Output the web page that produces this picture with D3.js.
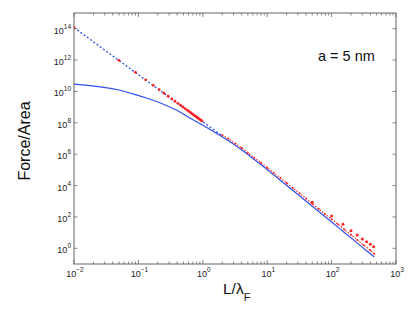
<!DOCTYPE html>
<html>
<head>
<meta charset="utf-8">
<script src="https://cdn.jsdelivr.net/npm/d3@7"></script>
<style>
body { margin: 0; background: #fff; }
svg { display: block; font-family: 'Liberation Sans', Arial, sans-serif; }
</style>
</head>
<body>
<script>
// exact force curve (blue, solid)
const blueX = [0.01, 0.05, 0.09, 0.13, 0.17, 0.25, 0.4, 0.63, 1, 1.58, 2.51, 3.98, 6.31, 10, 15.8, 25.1, 39.8, 63.1, 100, 158, 251, 460];
const blueY = [2.95e10, 1.23e10, 6.31e9, 3.98e9, 2.75e9, 1.48e9, 6.03e8, 2.0e8, 6.92e7, 2.29e7, 7.08e6, 1.91e6, 4.57e5, 1.05e5, 2.29e4, 4.9e3, 1.05e3, 224, 47.9, 10.2, 2.14, 0.28];

// small-L asymptote (blue, dashed)
const asymX = [0.01, 2];
const asymY = [1.17e14, 1.46e7];

// red points, small L
const redSmallX = [0.01, 0.05, 0.09, 0.13, 0.17, 0.21, 0.25, 0.29, 0.33, 0.37, 0.41, 0.45, 0.49, 0.53, 0.57, 0.61, 0.65, 0.69, 0.73, 0.77, 0.81, 0.85, 0.89, 0.93, 0.97];
const redSmallY = [1.2e14, 9.6e11, 1.646e11, 5.46e10, 2.44e10, 1.296e10, 7.68e9, 4.92e9, 3.34e9, 2.37e9, 1.741e9, 1.317e9, 1.02e9, 8.06e8, 6.48e8, 5.29e8, 4.37e8, 3.65e8, 3.08e8, 2.63e8, 2.26e8, 1.95e8, 1.7e8, 1.49e8, 1.31e8];

// red dotted curve, large L
const redLineX = [2, 2.5, 3.2, 4, 5, 6.3, 8, 10, 12.6, 16, 20, 25, 32, 40, 50, 63, 79, 100, 126, 158, 200, 251, 316, 398, 460];
const redLineY = [1.66e7, 9.55e6, 4.79e6, 2.51e6, 1.23e6, 6.03e5, 2.88e5, 1.38e5, 6.61e4, 3.09e4, 1.48e4, 6.92e3, 3.09e3, 1.48e3, 692, 324, 151, 72.4, 33.9, 15.8, 7.24, 3.39, 1.58, 0.74, 0.45];

// sparse red points, large L
const redBigX = [50, 100, 150, 200, 250, 300, 350, 400, 450];
const redBigY = [850, 115, 34, 13.2, 7.1, 3.9, 2.6, 1.8, 1.26];

const xTickExp = [-2, -1, 0, 1, 2, 3];
const yTickExp = [0, 2, 4, 6, 8, 10, 12, 14];

const W = 415, H = 309;
const m = {top: 13, right: 19, bottom: 45, left: 74};

const svg = d3.select('body').append('svg')
  .attr('width', W).attr('height', H);

const x = d3.scaleLog().domain([1e-2, 1e3]).range([m.left, W - m.right]);
const y = d3.scaleLog().domain([1e-1, 1e15]).range([H - m.bottom, m.top]);

const blue = '#2f4fee';
const red = '#f22';
const axisCol = '#666';

// frame
svg.append('rect')
  .attr('x', m.left).attr('y', m.top)
  .attr('width', W - m.left - m.right).attr('height', H - m.top - m.bottom)
  .attr('fill', 'none').attr('stroke', axisCol).attr('stroke-width', 1);

// x ticks (major + minor), bottom and top, pointing inward
const xTicks = [];
for (let e = -2; e < 3; e++) {
  for (let k = 1; k < 10; k++) xTicks.push({v: k * Math.pow(10, e), major: k === 1});
}
xTicks.push({v: 1e3, major: true});
xTicks.forEach(t => {
  const px = x(t.v);
  const len = t.major ? 4 : 2.5;
  svg.append('line').attr('x1', px).attr('x2', px)
    .attr('y1', H - m.bottom).attr('y2', H - m.bottom - len)
    .attr('stroke', axisCol).attr('stroke-width', 0.8);
  svg.append('line').attr('x1', px).attr('x2', px)
    .attr('y1', m.top).attr('y2', m.top + len)
    .attr('stroke', axisCol).attr('stroke-width', 0.8);
});

// y ticks, left and right
yTickExp.forEach(e => {
  const py = y(Math.pow(10, e));
  svg.append('line').attr('x1', m.left).attr('x2', m.left + 3.5)
    .attr('y1', py).attr('y2', py).attr('stroke', axisCol).attr('stroke-width', 0.8);
  svg.append('line').attr('x1', W - m.right).attr('x2', W - m.right - 3.5)
    .attr('y1', py).attr('y2', py).attr('stroke', axisCol).attr('stroke-width', 0.8);
});

// tick labels
xTickExp.forEach(e => {
  const t = svg.append('text')
    .attr('x', x(Math.pow(10, e)) + 1).attr('y', 277)
    .attr('text-anchor', 'middle')
    .attr('font-size', 9).attr('fill', '#222');
  t.append('tspan').text('10');
  t.append('tspan').attr('dy', -5).attr('font-size', 6.5).text(e < 0 ? '\u2212' + (-e) : e);
});
yTickExp.forEach(e => {
  const t = svg.append('text')
    .attr('x', 71).attr('y', y(Math.pow(10, e)) + 5)
    .attr('text-anchor', 'end')
    .attr('font-size', 9).attr('fill', '#222');
  t.append('tspan').text('10');
  t.append('tspan').attr('dy', -5).attr('font-size', 6.5).text(e);
});

// axis titles
svg.append('text')
  .attr('transform', 'translate(30,141) rotate(-90)')
  .attr('text-anchor', 'middle')
  .attr('font-size', 16).attr('fill', '#111')
  .text('Force/Area');

const xl = svg.append('text')
  .attr('x', 223).attr('y', 294)
  .attr('font-size', 15.5).attr('fill', '#111');
xl.append('tspan').text('L/\u03bb');
xl.append('tspan').attr('dy', 7).attr('font-size', 11).text('F');

svg.append('text')
  .attr('x', 318).attr('y', 61)
  .attr('font-size', 14.5).attr('fill', '#111')
  .text('a = 5 nm');

// curves
svg.append('clipPath').attr('id', 'clip')
  .append('rect').attr('x', m.left).attr('y', m.top)
  .attr('width', W - m.left - m.right).attr('height', H - m.top - m.bottom);

const plot = svg.append('g').attr('clip-path', 'url(#clip)');

const line = d3.line().x(d => x(d[0])).y(d => y(d[1])).curve(d3.curveMonotoneX);

plot.append('path')
  .datum(d3.zip(asymX, asymY))
  .attr('d', line)
  .attr('fill', 'none').attr('stroke', blue)
  .attr('stroke-width', 1.3).attr('stroke-dasharray', '2,2');

plot.append('path')
  .datum(d3.zip(blueX, blueY))
  .attr('d', line)
  .attr('fill', 'none').attr('stroke', blue).attr('stroke-width', 1.2);

plot.append('path')
  .datum(d3.zip(redLineX, redLineY))
  .attr('d', line)
  .attr('fill', 'none').attr('stroke', red)
  .attr('stroke-width', 1.3).attr('stroke-dasharray', '1.3,1.7');

plot.selectAll('.rs')
  .data(d3.zip(redSmallX, redSmallY))
  .join('circle').attr('class', 'rs')
  .attr('cx', d => x(d[0])).attr('cy', d => y(d[1]))
  .attr('r', 1.4).attr('fill', red);

plot.selectAll('.rl')
  .data(d3.zip(redLineX, redLineY))
  .join('circle').attr('class', 'rl')
  .attr('cx', d => x(d[0])).attr('cy', d => y(d[1]))
  .attr('r', 1).attr('fill', red);

plot.selectAll('.rb')
  .data(d3.zip(redBigX, redBigY))
  .join('circle').attr('class', 'rb')
  .attr('cx', d => x(d[0])).attr('cy', d => y(d[1]))
  .attr('r', 1.5).attr('fill', red);
</script>
</body>
</html>
